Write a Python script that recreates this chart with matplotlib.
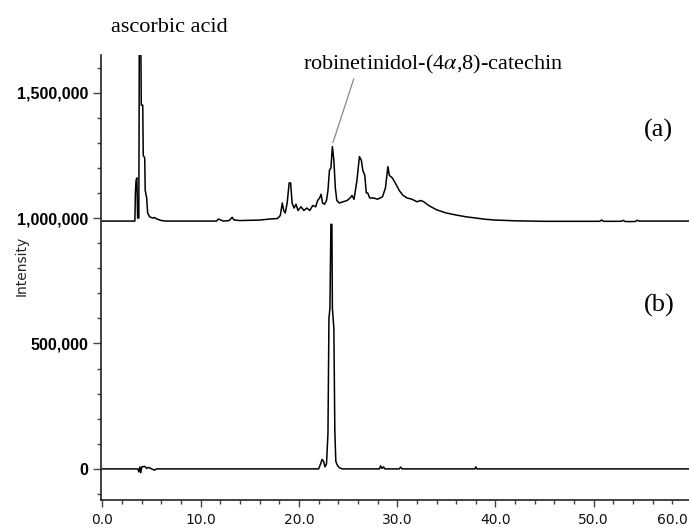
import matplotlib
matplotlib.use("Agg")
import matplotlib.pyplot as plt
from matplotlib.ticker import MultipleLocator, FuncFormatter

# 保留时间 (min) 与强度 —— 数值
# (a) 样品色谱, 已带基线偏移
time_a = [0, 3.3, 3.35, 3.42, 3.5, 3.58, 3.7, 3.75, 3.9, 3.95, 4.1, 4.15, 4.3, 4.35,
          4.5, 4.6, 4.8, 5.1, 5.3, 5.6, 6.0, 6.5, 11.6, 11.8, 12.0, 12.3, 12.9, 13.2,
          13.4, 14.0, 16.0, 17.0, 17.8, 18.1, 18.3, 18.45, 18.6, 18.8, 19.0, 19.15,
          19.3, 19.5, 19.7, 19.9, 20.2, 20.5, 20.8, 21.1, 21.4, 21.7, 21.9, 22.1,
          22.25, 22.4, 22.6, 22.8, 22.95, 23.1, 23.25, 23.4, 23.55, 23.7, 23.85,
          24.1, 24.5, 24.9, 25.2, 25.4, 25.6, 25.9, 26.15, 26.35, 26.5, 26.7, 26.85,
          27.0, 27.2, 27.6, 28.0, 28.5, 28.8, 29.05, 29.2, 29.5, 29.8, 30.2, 30.6,
          31.0, 31.5, 32.0, 32.4, 32.7, 33.2, 34.0, 35.0, 36.0, 37.0, 38.0, 39.0,
          40.0, 42.0, 45.0, 50.6, 50.8, 51.0, 52.8, 53.0, 53.2, 54.2, 54.4, 54.6, 60.5]
intensity_a = [988000, 988000, 1100000, 1150000, 1160000, 1000000, 1000000, 1720000,
               1720000, 1450000, 1450000, 1250000, 1240000, 1110000, 1080000, 1020000,
               1005000, 1000000, 1002000, 995000, 990000, 988000, 988000, 996000,
               993000, 988000, 990000, 1003000, 992000, 990000, 992000, 996000,
               998000, 1010000, 1060000, 1030000, 1020000, 1060000, 1140000, 1140000,
               1060000, 1040000, 1055000, 1030000, 1045000, 1030000, 1040000, 1030000,
               1050000, 1045000, 1070000, 1080000, 1095000, 1060000, 1055000, 1070000,
               1110000, 1190000, 1200000, 1285000, 1230000, 1120000, 1070000, 1060000,
               1065000, 1070000, 1080000, 1090000, 1075000, 1150000, 1245000, 1230000,
               1190000, 1170000, 1100000, 1100000, 1080000, 1080000, 1075000, 1085000,
               1120000, 1205000, 1170000, 1160000, 1140000, 1110000, 1090000, 1080000,
               1075000, 1065000, 1070000, 1065000, 1050000, 1033000, 1020000, 1012000,
               1005000, 1000000, 995000, 992000, 989000, 987000, 987000, 992000,
               987000, 987000, 991000, 986000, 986000, 991000, 988000, 988000]

# (b) 标准品色谱
time_b = [0, 3.6, 3.7, 3.8, 3.9, 4.0, 4.3, 4.5, 4.7, 5.0, 5.3, 5.5, 22.0, 22.2, 22.35,
          22.5, 22.65, 22.8, 22.95, 23.05, 23.15, 23.25, 23.35, 23.4, 23.55, 23.65,
          23.75, 23.9, 24.1, 24.4, 28.2, 28.3, 28.45, 28.6, 28.75, 30.2, 30.35, 30.5,
          37.9, 38.0, 38.1, 60.5]
intensity_b = [0, 0, -12000, 8000, -15000, 8000, 10000, 2000, 6000, 0, -5000, 0, 0,
               20000, 38000, 30000, 8000, 20000, 140000, 600000, 640000, 975000, 975000,
               640000, 560000, 150000, 30000, 15000, 5000, 0, 0, 12000, 2000, 8000, 0,
               0, 7000, 0, 0, 8000, 0, 0]

x_ticks = [0, 10, 20, 30, 40, 50, 60]
y_ticks = [0, 500000, 1000000, 1500000]

plt.rcParams['mathtext.fontset'] = 'stix'

W, H = 689, 529
fig = plt.figure(figsize=(W / 100, H / 100), dpi=100)
ax = fig.add_axes([100.5 / W, (H - 500) / H, (692 - 100.5) / W, (500 - 55) / H])

ax.plot(time_a, intensity_a, color='black', lw=1.1)
ax.plot(time_b, intensity_b, color='black', lw=1.1)

ax.set_xlim(-0.2, 60.0)
ax.set_ylim(-124000, 1650000)

for s in ['top', 'right']:
    ax.spines[s].set_visible(False)
for s in ['left', 'bottom']:
    ax.spines[s].set_linewidth(1.2)
    ax.spines[s].set_color('#222222')

# 最后一个刻度 60.0 在图外, 其标签单独右对齐画出
x_labels = [f"{t:.1f}" for t in x_ticks]
ax.set_xticks(x_ticks, labels=x_labels[:-1] + [''])
ax.xaxis.set_minor_locator(MultipleLocator(2))
ax.set_yticks(y_ticks)
ax.yaxis.set_minor_locator(MultipleLocator(100000))
ax.yaxis.set_major_formatter(FuncFormatter(lambda v, p: f"{v:,.0f}"))

ax.tick_params(axis='x', which='major', length=5, width=1, color='#444444', pad=4,
               labelsize=10, labelcolor='#111111')
ax.tick_params(axis='x', which='minor', length=3, width=1, color='#444444')
ax.tick_params(axis='y', which='major', length=6, width=1, color='#444444', pad=3)
ax.tick_params(axis='y', which='minor', length=3, width=1, color='#444444')
for lab in ax.get_yticklabels():
    lab.set_fontfamily('Liberation Sans')
    lab.set_fontweight('bold')
    lab.set_fontsize(11.5)

ax.annotate(x_labels[-1], xy=(x_ticks[-1], 0), xycoords=('data', 'axes fraction'),
            xytext=(-3, -9), textcoords='offset points', ha='right', va='top',
            fontsize=10, color='#111111', annotation_clip=False)

fig.text(22 / W, 1 - 266 / H, 'Intensity', rotation=90, ha='center', va='center',
         fontsize=10, color='#222222')

serif = 'Liberation Serif'
ax.text(6.8, 1742000, 'ascorbic acid', ha='center', va='baseline', fontsize=16,
        family=serif, clip_on=False)
ax.annotate(r'robinetinidol-(4$\alpha$,8)-catechin', xy=(23.45, 1300000),
            xytext=(33.7, 1592000), textcoords='data', ha='center', va='baseline',
            fontsize=16, family=serif,
            arrowprops=dict(arrowstyle='-', color='#888888', lw=0.9,
                            relpos=(0.197, 0), shrinkA=0, shrinkB=0))
ax.text(56.6, 1351000, '(a)', ha='center', va='center', fontsize=19, family=serif)
ax.text(56.7, 652000, '(b)', ha='center', va='center', fontsize=19, family=serif)

fig.savefig('out.png', dpi=100)
